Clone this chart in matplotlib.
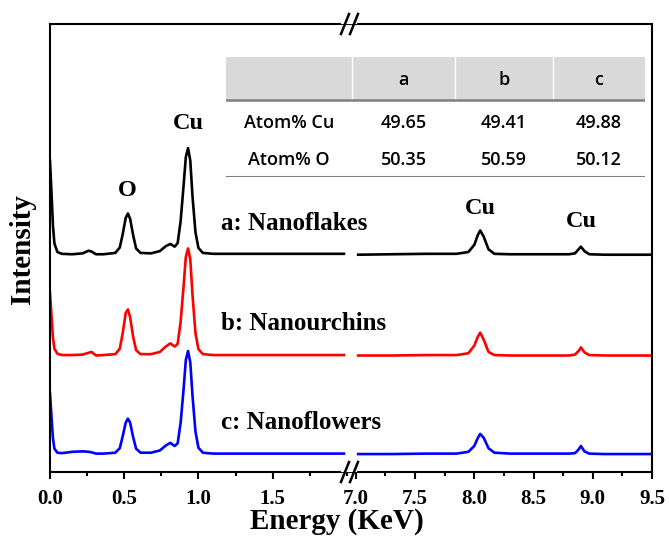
import numpy as np
import matplotlib
matplotlib.use('Agg')
import matplotlib.pyplot as plt
from matplotlib.lines import Line2D
from matplotlib.patches import Rectangle
from matplotlib.ticker import MultipleLocator

plt.rcParams['font.family'] = 'Liberation Serif'
plt.rcParams['font.weight'] = 'bold'

# EDS spectra, low-energy segment (keV) -- shared grid
E_left = [0.00, 0.01, 0.02, 0.03, 0.05, 0.08, 0.15, 0.22, 0.26, 0.28,
          0.31, 0.36, 0.44, 0.47, 0.49, 0.51, 0.525, 0.54, 0.56, 0.58,
          0.61, 0.68, 0.74, 0.78, 0.81, 0.84, 0.86, 0.88, 0.90, 0.915,
          0.93, 0.945, 0.96, 0.98, 1.00, 1.03, 1.10, 1.30, 1.60, 1.98]
I_a_left = [21.0, 14.0, 6.5, 2.5, 0.6, 0.2, 0.1, 0.3, 0.9, 0.7,
            0.1, 0.1, 0.4, 1.6, 4.6, 8.2, 9.2, 8.0, 4.4, 1.4,
            0.4, 0.3, 0.8, 1.9, 2.4, 1.8, 2.6, 7.5, 15.5, 21.8,
            23.8, 21.0, 13.0, 5.0, 1.5, 0.4, 0.2, 0.2, 0.2, 0.2]
I_b_left = [14.1, 9.0, 4.0, 1.5, 0.4, 0.1, 0.1, 0.2, 0.6, 0.8,
            0.0, 0.1, 0.3, 1.5, 5.0, 9.5, 10.3, 8.5, 4.2, 1.2,
            0.3, 0.3, 0.8, 2.0, 2.7, 2.0, 2.6, 7.5, 15.5, 22.0,
            23.9, 21.5, 13.5, 5.0, 1.4, 0.3, 0.1, 0.1, 0.1, 0.1]
I_c_left = [13.7, 8.5, 3.5, 1.2, 0.3, 0.2, 0.5, 0.6, 0.5, 0.4,
            0.1, 0.1, 0.3, 1.3, 4.0, 7.0, 7.9, 7.0, 3.8, 1.2,
            0.3, 0.3, 0.8, 1.9, 2.5, 1.8, 2.4, 7.0, 14.5, 21.0,
            23.0, 20.5, 13.0, 5.0, 1.4, 0.3, 0.1, 0.1, 0.1, 0.1]

# high-energy segment (Cu K lines)
E_right = [7.02, 7.30, 7.60, 7.85, 7.95, 8.00, 8.03, 8.05, 8.08, 8.12,
           8.17, 8.30, 8.60, 8.80, 8.85, 8.88, 8.90, 8.93, 8.97, 9.10, 9.50]
I_a_right = [0.0, 0.1, 0.2, 0.2, 0.6, 2.2, 4.4, 5.4, 4.0, 1.2,
             0.2, 0.1, 0.1, 0.1, 0.3, 1.2, 1.8, 0.8, 0.1, 0.0, 0.0]
I_b_right = [0.0, 0.0, 0.1, 0.1, 0.5, 2.2, 4.2, 5.1, 3.5, 0.8,
             0.1, 0.0, 0.0, 0.0, 0.2, 1.0, 1.8, 0.7, 0.1, 0.0, 0.0]
I_c_right = [0.0, 0.0, 0.1, 0.1, 0.5, 1.8, 3.6, 4.5, 3.6, 1.3,
             0.3, 0.1, 0.1, 0.1, 0.2, 1.0, 1.8, 0.6, 0.1, 0.0, 0.0]

names = ['a: Nanoflakes', 'b: Nanourchins', 'c: Nanoflowers']
colors = ['black', 'red', 'blue']
offsets = [48.5, 26.0, 4.0]

# composition table
tab_cols = ['a', 'b', 'c']
tab_rows = ['Atom% Cu', 'Atom% O']
atom_cu = ['49.65', '49.41', '49.88']
atom_o = ['50.35', '50.59', '50.12']

fig = plt.figure(figsize=(6.69, 5.42), dpi=100)
ax1 = fig.add_axes([0.0747, 0.1292, 0.4483, 0.8265])
ax2 = fig.add_axes([0.5230, 0.1292, 0.4516, 0.8265])
ax2.patch.set_visible(False)

lefts = [I_a_left, I_b_left, I_c_left]
rights = [I_a_right, I_b_right, I_c_right]
for yl, yr, off, c in zip(lefts, rights, offsets, colors):
    ax1.plot(E_left, np.array(yl) + off, color=c, lw=1.9)
    ax2.plot(E_right, np.array(yr) + off, color=c, lw=1.9)

ax1.set_xlim(0, 2.02)
ax2.set_xlim(6.95, 9.5)
for ax in (ax1, ax2):
    ax.set_ylim(0, 100)
    ax.set_yticks([])
    for s in ax.spines.values():
        s.set_linewidth(1.5)
    ax.tick_params(axis='x', direction='out', which='major', length=5, width=1.5,
                   labelsize=15, pad=7)
    ax.tick_params(axis='x', direction='out', which='minor', length=3, width=1.5)
    ax.xaxis.set_minor_locator(MultipleLocator(0.25))
ax1.spines['right'].set_visible(False)
ax2.spines['left'].set_visible(False)
ax1.set_xticks([0.0, 0.5, 1.0, 1.5])
ax2.set_xticks([7.0, 7.5, 8.0, 8.5, 9.0, 9.5])
ax1.set_xticklabels(['0.0', '0.5', '1.0', '1.5'])
ax2.set_xticklabels(['7.0', '7.5', '8.0', '8.5', '9.0', '9.5'])

# peak labels
ax1.text(0.52, 60.5, 'O', ha='center', va='bottom', fontsize=17.5)
ax1.text(0.93, 75.5, 'Cu', ha='center', va='bottom', fontsize=17.5)
ax2.text(8.05, 56.5, 'Cu', ha='center', va='bottom', fontsize=17.5)
ax2.text(8.90, 53.5, 'Cu', ha='center', va='bottom', fontsize=17.5)

# sample labels
for name, off in zip(names, offsets):
    ax1.text(1.15, off + 4.5, name, ha='left', va='bottom', fontsize=18, zorder=5)

fig.text(0.504, 0.037, 'Energy (KeV)', ha='center', va='center', fontsize=21)
fig.text(0.033, 0.54, 'Intensity', ha='center', va='center', rotation=90, fontsize=21)

# axis break marks
W, H = 669.0, 542.0
for yb in (24, 472):
    fig.add_artist(Line2D([343 / W, 355 / W], [1 - (yb - 2) / H, 1 - (yb - 2) / H],
                          color='white', lw=3, transform=fig.transFigure))
    for xb in (341, 350):
        fig.add_artist(Line2D([xb / W, (xb + 8) / W], [1 - (yb + 10) / H, 1 - (yb - 10) / H],
                              color='black', lw=1.8, transform=fig.transFigure))

# composition table
tx = fig.add_axes([226 / W, 1 - 177 / H, 419 / W, 120 / H])
tx.set_xlim(0, 1)
tx.set_ylim(0, 1)
tx.axis('off')
edges = [0.0, 0.3007, 0.5465, 0.7804, 1.0]
centers = [(edges[i] + edges[i + 1]) / 2 for i in range(4)]
tx.add_patch(Rectangle((0, 0.6417), 1, 0.3583, color='#d9d9d9', lw=0))
for e in edges[1:-1]:
    tx.plot([e, e], [0.6417, 1.0], color='white', lw=1)
tx.plot([0, 1], [0.6417, 0.6417], color='#7f7f7f', lw=1.8)
tx.plot([0, 1], [0.0, 0.0], color='#7f7f7f', lw=1.5)
tfont = dict(family='Open Sans', fontweight='semibold', fontsize=13, ha='center',
             va='center', color='black')
for cx, lab in zip(centers[1:], tab_cols):
    tx.text(cx, 0.808, lab, **tfont)
tx.text(centers[0], 0.45, tab_rows[0], **tfont)
tx.text(centers[0], 0.142, tab_rows[1], **tfont)
for cx, v1, v2 in zip(centers[1:], atom_cu, atom_o):
    tx.text(cx, 0.45, v1, **tfont)
    tx.text(cx, 0.142, v2, **tfont)

fig.savefig('out.png', dpi=100)
